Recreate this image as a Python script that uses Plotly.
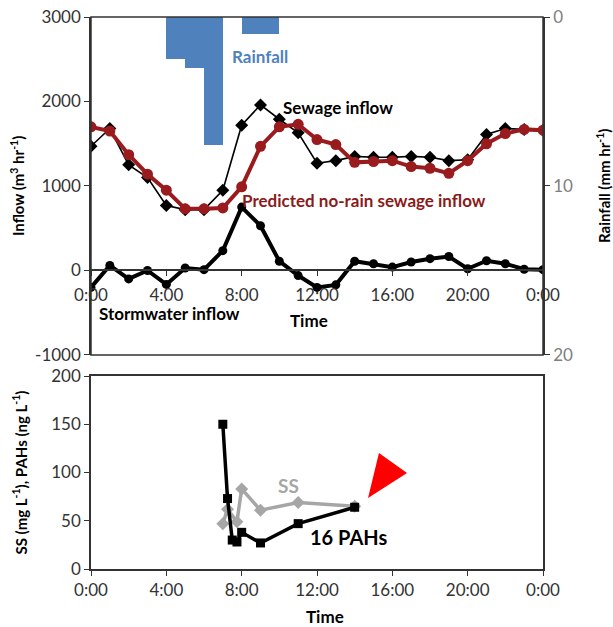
import plotly.graph_objects as go

# 時間 (小時)
hours = list(range(25))
tick_hours = [0, 4, 8, 12, 16, 20, 24]
tick_labels = ['0:00', '4:00', '8:00', '12:00', '16:00', '20:00', '0:00']

# 降雨 (mm/hr)，每小時一格
rain_start = [4, 5, 6, 8, 9]
rain_mm = [2.5, 3.0, 7.6, 1.0, 1.0]

# 流量 (m3/hr)
sewage = [1470, 1680, 1250, 1100, 770, 720, 720, 950, 1720, 1960, 1790, 1630, 1270,
          1300, 1350, 1340, 1340, 1350, 1340, 1300, 1310, 1610, 1680, 1670, 1660]
predicted = [1700, 1650, 1370, 1140, 950, 730, 730, 740, 990, 1470, 1700, 1730, 1550,
             1490, 1280, 1290, 1300, 1230, 1210, 1150, 1300, 1500, 1620, 1670, 1660]
stormwater = [-200, 60, -100, 0, -165, 30, 10, 235, 750, 530, 110, -60, -200,
              -170, 110, 80, 40, 100, 140, 165, 20, 115, 80, 15, 10]
inflow_ticks = [-1000, 0, 1000, 2000, 3000]

# 下圖：SS 與 16 PAHs
pah_t = [7.0, 7.25, 7.5, 7.75, 8.0, 9.0, 11.0, 14.0]
pah = [150, 73, 30, 28, 38, 27, 47, 64]
ss_t = [7.0, 7.25, 7.75, 8.0, 9.0, 11.0, 14.0]
ss = [47, 62, 49, 83, 61, 69, 65]

FONT = 'Lato'
top_dom = [0.3877, 1.0]
bot_dom = [0.0, 0.3496]
zero_pos = top_dom[0] + 0.25 * (top_dom[1] - top_dom[0])

fig = go.Figure()

fig.add_trace(go.Bar(x=[h + 0.5 for h in rain_start], y=rain_mm, width=1,
                     marker=dict(color='#4F81BD', line=dict(width=0)),
                     xaxis='x', yaxis='y2', name='Rainfall'))

fig.add_trace(go.Scatter(x=hours, y=stormwater, mode='lines+markers',
                         line=dict(color='black', width=4),
                         marker=dict(symbol='circle', size=9, color='black'),
                         xaxis='x', yaxis='y', name='Stormwater'))
fig.add_trace(go.Scatter(x=hours, y=sewage, mode='lines+markers',
                         line=dict(color='black', width=1.6),
                         marker=dict(symbol='diamond', size=10, color='black'),
                         xaxis='x', yaxis='y', name='Sewage'))
fig.add_trace(go.Scatter(x=hours, y=predicted, mode='lines+markers',
                         line=dict(color='#9A1B1E', width=4),
                         marker=dict(symbol='circle', size=11, color='#9A1B1E'),
                         xaxis='x', yaxis='y', name='Predicted'))

fig.add_trace(go.Scatter(x=ss_t, y=ss, mode='lines+markers',
                         line=dict(color='#A6A6A6', width=3.5),
                         marker=dict(symbol='diamond', size=10, color='#A6A6A6'),
                         xaxis='x2', yaxis='y3', name='SS'))
fig.add_trace(go.Scatter(x=pah_t, y=pah, mode='lines+markers',
                         line=dict(color='black', width=3.5),
                         marker=dict(symbol='square', size=9, color='black'),
                         xaxis='x2', yaxis='y3', name='PAHs'))

axis_common = dict(showgrid=False, zeroline=False, showline=True, linecolor='#333',
                   linewidth=1.5, ticks='outside', tickcolor='#333', ticklen=5,
                   automargin=False, ticklabeloverflow='allow',
                   tickfont=dict(family=FONT, size=17, color='#333'))

fig.update_layout(
    width=613, height=627,
    margin=dict(l=91, r=70, t=17, b=58),
    paper_bgcolor='white', plot_bgcolor='white',
    showlegend=False, bargap=0,
    font=dict(family=FONT),
    xaxis=dict(axis_common, range=[0, 24], tickvals=tick_hours, ticktext=tick_labels,
               anchor='free', position=zero_pos, ticklabelstandoff=4),
    yaxis=dict(axis_common, domain=top_dom, range=[-1000, 3000],
               tickvals=inflow_ticks, ticktext=[str(v) for v in inflow_ticks], anchor='x'),
    yaxis2=dict(axis_common, overlaying='y', side='right', range=[20, 0],
                tickvals=[0, 10, 20], anchor='x',
                tickfont=dict(family=FONT, size=17, color='#808080')),
    xaxis2=dict(axis_common, range=[0, 24], tickvals=tick_hours, ticktext=tick_labels,
                anchor='y3', mirror=True),
    yaxis3=dict(axis_common, domain=bot_dom, range=[0, 200],
                tickvals=[0, 50, 100, 150, 200], anchor='x2', mirror=True),
)

# 上圖外框
fig.add_shape(type='rect', xref='x domain', yref='y domain', x0=0, x1=1, y0=0, y1=1,
              line=dict(color='#333', width=1.5), layer='above')

# 紅色三角形
fig.add_shape(type='path', xref='x2', yref='y3',
              path='M 14.71,73.6 L 15.29,120.2 L 16.78,99.5 Z',
              fillcolor='#FF0000', line=dict(width=0))

def label(text, x, y, xref, yref, size=17, color='black', **kw):
    fig.add_annotation(text=text, x=x, y=y, xref=xref, yref=yref, showarrow=False,
                       xanchor='center', yanchor='middle',
                       font=dict(family=FONT, size=size, color=color, weight='bold'), **kw)

label('Rainfall', 8.95, 2530, 'x', 'y', color='#4F81BD')
label('Sewage inflow', 13.1, 1930, 'x', 'y')
label('Predicted no-rain sewage inflow', 14.5, 830, 'x', 'y', color='#8B1A1A')
label('Stormwater inflow', 4.15, -510, 'x', 'y')
label('Time', 11.55, -590, 'x', 'y')
label('SS', 10.5, 87, 'x2', 'y3', size=19, color='#A6A6A6')
label('16 PAHs', 13.65, 33, 'x2', 'y3', size=20)
label('Time', 12.4, 0, 'x2', 'y3', yshift=-47)

label('Inflow (m<sup>3</sup> hr<sup>-1</sup>)', 0, 0.5, 'paper', 'y domain', size=15,
      textangle=-90, xshift=-73)
label('Rainfall (mm hr<sup>-1</sup>)', 1, 0.5, 'paper', 'y domain', size=15,
      textangle=-90, xshift=61)
label('SS (mg L<sup>-1</sup>), PAHs (ng L<sup>-1</sup>)', 0, 0.5, 'paper', 'y3 domain',
      size=15, textangle=-90, xshift=-71)

# 去掉頁面 body 預設的 8px 邊距，並關閉工具列
fig.write_html("out.html", config={'displayModeBar': False},
               post_script="document.body.style.margin='0px';")
